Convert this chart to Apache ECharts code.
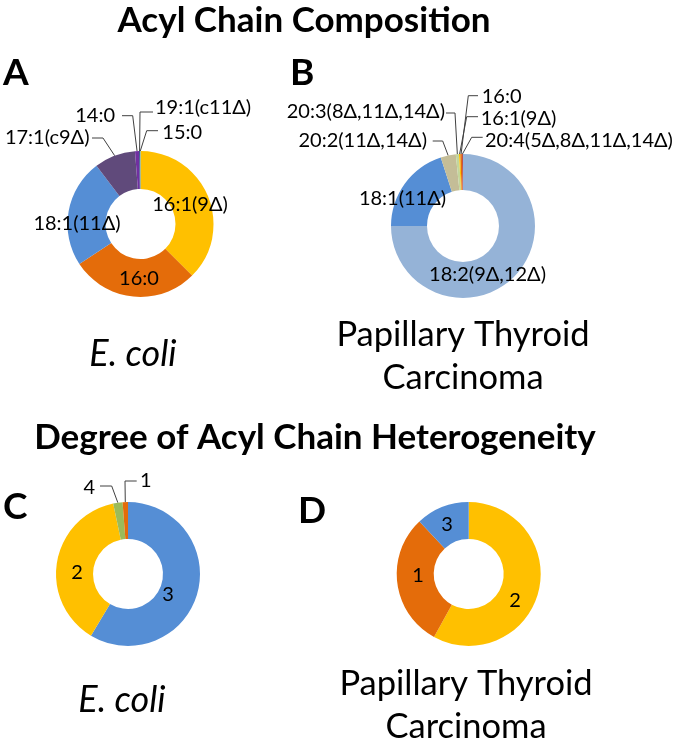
<!DOCTYPE html>
<html>
<head>
<meta charset="utf-8">
<script src="https://cdn.jsdelivr.net/npm/echarts@6/dist/echarts.min.js"></script>
<style>html,body{margin:0;padding:0;background:#fff}#c{width:675px;height:742px}</style>
</head>
<body>
<div id="c"></div>
<script>
// ---- data ----
const aNames = ['16:1(9Δ)', '16:0', '18:1(11Δ)', '17:1(c9Δ)', '14:0', '19:1(c11Δ)', '15:0'];
const aValues = [37.5, 28.3, 23.9, 9.1, 0.9, 0.2, 0.1];
const bNames = ['18:2(9Δ,12Δ)', '18:1(11Δ)', '20:2(11Δ,14Δ)', '20:3(8Δ,11Δ,14Δ)', '16:1(9Δ)', '16:0', '20:4(5Δ,8Δ,11Δ,14Δ)'];
const bValues = [75.0, 20.0, 3.4, 0.7, 0.3, 0.35, 0.25];
const cNames = ['3', '2', '4', '1'];
const cValues = [58.6, 38.1, 2.1, 1.2];
const dNames = ['2', '1', '3'];
const dValues = [58, 30, 12];

// ---- styles ----
const FONT = 'Lato, "Noto Sans", sans-serif';
const aColors = ['#FFC000', '#E46C0A', '#558ED5', '#604A7B', '#7030A0', '#1F497D', '#4BACC6'];
const bColors = ['#95B3D7', '#558ED5', '#C4BD97', '#C3D69B', '#FFC000', '#E46C0A', '#C0504D'];
const cColors = ['#558ED5', '#FFC000', '#9BBB59', '#E46C0A'];
const dColors = ['#FFC000', '#E46C0A', '#558ED5'];

// label layout relative to pie center: dx, dy, align, optional leader [labelEnd, elbow]
const aLayout = [
  {dx: 49.5, dy: -19, align: 'center'},
  {dx: -1.5, dy: 55, align: 'center'},
  {dx: -63.5, dy: 0, align: 'center'},
  {dx: -51, dy: -86, align: 'right', line: [[-48.5, -86], [-37.5, -86]]},
  {dx: -25.5, dy: -108.5, align: 'right', line: [[-18.5, -108.3], [-7.8, -108.3]]},
  {dx: 14.5, dy: -116, align: 'left', line: [[12.5, -112], [-0.5, -112]]},
  {dx: 21.8, dy: -91, align: 'left', line: [[17.5, -93.3], [6.2, -93.3]]}
];
const bLayout = [
  {dx: 24.5, dy: 49, align: 'center'},
  {dx: -60.5, dy: -27, align: 'center'},
  {dx: -36, dy: -85, align: 'right', line: [[-30.3, -85], [-20.3, -85]]},
  {dx: -18, dy: -114, align: 'right', line: [[-17, -113], [-8, -113]]},
  {dx: 17.7, dy: -107.7, align: 'left', line: [[15, -109.3], [3.7, -109.3]]},
  {dx: 18.7, dy: -129.3, align: 'left', line: [[15, -130.3], [5.3, -130.3]]},
  {dx: 22, dy: -85.2, align: 'left', line: [[19.7, -88.7], [8.7, -88.7]]}
];
const cLayout = [
  {dx: 40, dy: 21, align: 'center'},
  {dx: -51, dy: -1, align: 'center'},
  {dx: -33, dy: -86, align: 'right', line: [[-28, -88], [-16.3, -88]]},
  {dx: 12, dy: -93, align: 'left', line: [[8.7, -93], [-3, -93]]}
];
const dLayout = [
  {dx: 46.3, dy: 27, align: 'center'},
  {dx: -50.7, dy: 2, align: 'center'},
  {dx: -21.7, dy: -49, align: 'center'}
];

function makeSeries(names, values, colors, layout, center, radius) {
  const data = names.map((n, i) => {
    const hasLine = !!layout[i].line;
    return {
      name: n, value: values[i],
      itemStyle: {color: colors[i]},
      label: {position: hasLine ? 'outside' : 'inside'},
      labelLine: {show: hasLine}
    };
  });
  return {
    type: 'pie',
    center: center,
    radius: radius,
    startAngle: 90,
    clockwise: true,
    avoidLabelOverlap: false,
    silent: true,
    itemStyle: {borderWidth: 0},
    label: {show: true, formatter: '{b}', color: '#000', fontSize: 20, fontFamily: FONT},
    labelLine: {lineStyle: {color: '#404040', width: 1}},
    emphasis: {disabled: true},
    data: data,
    labelLayout: function (p) {
      const L = layout[p.dataIndex];
      const cx = center[0], cy = center[1];
      const res = {x: cx + L.dx, y: cy + L.dy, align: L.align, verticalAlign: 'middle'};
      if (L.line) {
        let p0;
        if (p.labelLinePoints && p.labelLinePoints[0]) {
          p0 = p.labelLinePoints[0];
        } else {
          p0 = [cx, cy - radius[1]];
        }
        res.labelLinePoints = [
          [p0[0], p0[1]],
          [cx + L.line[1][0], cy + L.line[1][1]],
          [cx + L.line[0][0], cy + L.line[0][1]]
        ];
      }
      return res;
    }
  };
}

function txt(t, x, y, size, weight, style, align) {
  return {
    type: 'text', x: x, y: y, silent: true,
    style: {
      text: t, fill: '#000',
      font: (style || 'normal') + ' ' + (weight || 'normal') + ' ' + size + 'px ' + FONT,
      textAlign: align || 'center', textVerticalAlign: 'middle'
    }
  };
}

const chart = echarts.init(document.getElementById('c'), null, {renderer: 'canvas'});
chart.setOption({
  animation: false,
  backgroundColor: '#fff',
  graphic: [
    txt('Acyl Chain Composition', 304, 21, 35, 'bold'),
    txt('A', 3, 73, 37, 'bold', null, 'left'),
    txt('B', 290, 73, 37, 'bold', null, 'left'),
    txt('E. coli', 133, 354, 36, 'normal', 'italic'),
    txt('Papillary Thyroid', 463, 335, 34.5),
    txt('Carcinoma', 463, 378, 34.5),
    txt('Degree of Acyl Chain Heterogeneity', 315, 438, 35, 'bold'),
    txt('C', 3, 507, 37, 'bold', null, 'left'),
    txt('D', 298, 511, 37, 'bold', null, 'left'),
    txt('E. coli', 122, 700, 36, 'normal', 'italic'),
    txt('Papillary Thyroid', 466, 684, 34.5),
    txt('Carcinoma', 466, 727, 34.5)
  ],
  series: [
    makeSeries(aNames, aValues, aColors, aLayout, [140.5, 224], [35, 73]),
    makeSeries(bNames, bValues, bColors, bLayout, [463, 226], [36, 72]),
    makeSeries(cNames, cValues, cColors, cLayout, [128, 574], [35, 72]),
    makeSeries(dNames, dValues, dColors, dLayout, [468.7, 574], [35, 72])
  ]
});
</script>
</body>
</html>
